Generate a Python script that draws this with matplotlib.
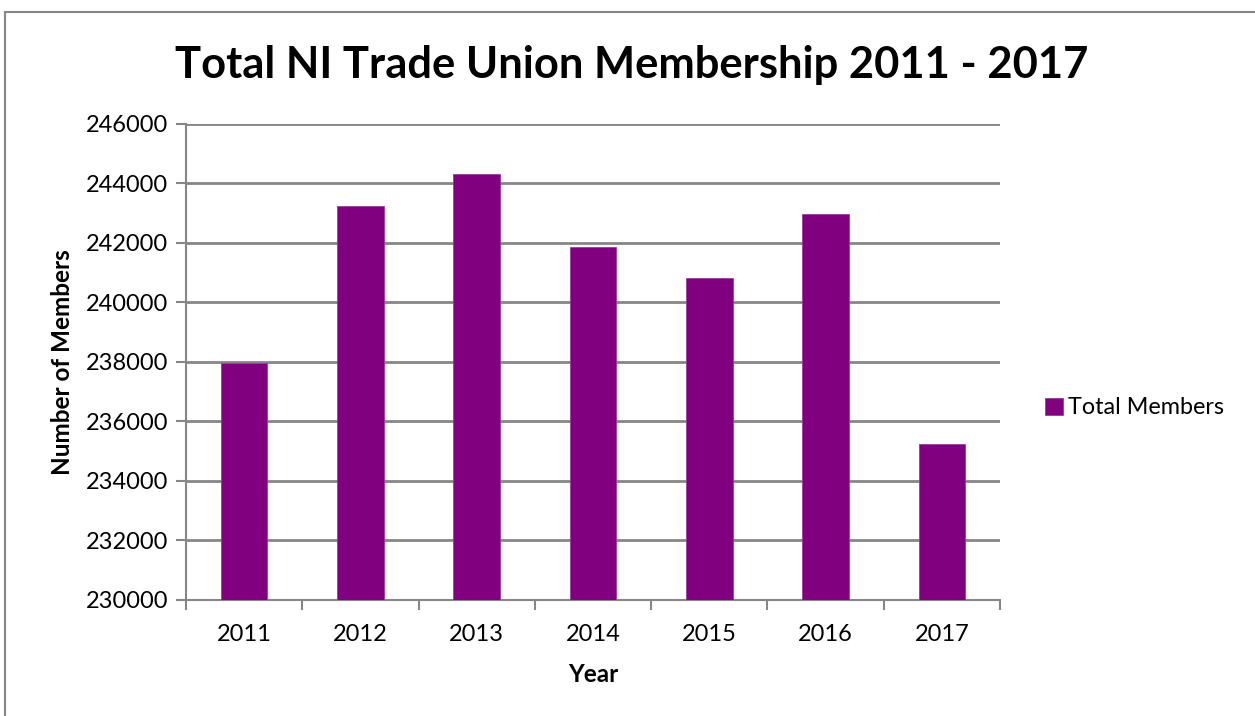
import matplotlib.pyplot as plt
from matplotlib.patches import Rectangle

years = ["2011", "2012", "2013", "2014", "2015", "2016", "2017"]
members = [237970, 243230, 244330, 241870, 240810, 242980, 235250]

plt.rcParams['font.family'] = ['Lato', 'DejaVu Sans']

fig = plt.figure(figsize=(12.55, 7.16), dpi=100)
ax = fig.add_axes([186 / 1255, 116 / 716, 814 / 1255, 476 / 716])

grey = '#868686'
x = list(range(len(years)))
ax.bar(x, members, width=0.4, color='#800080', edgecolor='#9a3a9a', linewidth=0.6,
       label='Total Members', zorder=3)

ax.set_xlim(-0.5, len(years) - 0.5)
ax.set_ylim(230000, 246000)
ax.set_yticks(range(230000, 246001, 2000))
ax.set_xticks(x)
ax.set_xticklabels(years)
ax.set_xticks([i - 0.5 for i in range(len(years) + 1)], minor=True)
ax.tick_params(axis='x', which='major', length=0, pad=17, labelsize=17)
ax.tick_params(axis='x', which='minor', length=7, width=1.5, color=grey)
ax.tick_params(axis='y', length=7, width=1.5, color=grey, labelsize=17, pad=6)

ax.grid(axis='y', color=grey, linewidth=2, zorder=0)
for s in ['top', 'right']:
    ax.spines[s].set_visible(False)
for s in ['left', 'bottom']:
    ax.spines[s].set_color(grey)
    ax.spines[s].set_linewidth(1.5)

ax.set_xlabel('Year', fontsize=17.5, fontweight='bold', labelpad=13)
ax.set_ylabel('Number of Members', fontsize=17.5, fontweight='bold', labelpad=8)

fig.text(632 / 1255, 1 - 65 / 716, 'Total NI Trade Union Membership 2011 - 2017',
         ha='center', va='center', fontsize=31.3, fontweight='bold')

fig.legend(loc='center left', bbox_to_anchor=(1045 / 1255, 1 - 408 / 716),
           frameon=False, fontsize=16.8, handlelength=0.75, handleheight=0.75,
           handletextpad=0.25, borderpad=0, borderaxespad=0)

# chart area border
fig.patches.append(Rectangle((5 / 1255, -0.1), 1.2, 1.1 - 12 / 716,
                             transform=fig.transFigure, fill=False,
                             edgecolor=grey, linewidth=1.5))

fig.savefig('out.png', dpi=100)
